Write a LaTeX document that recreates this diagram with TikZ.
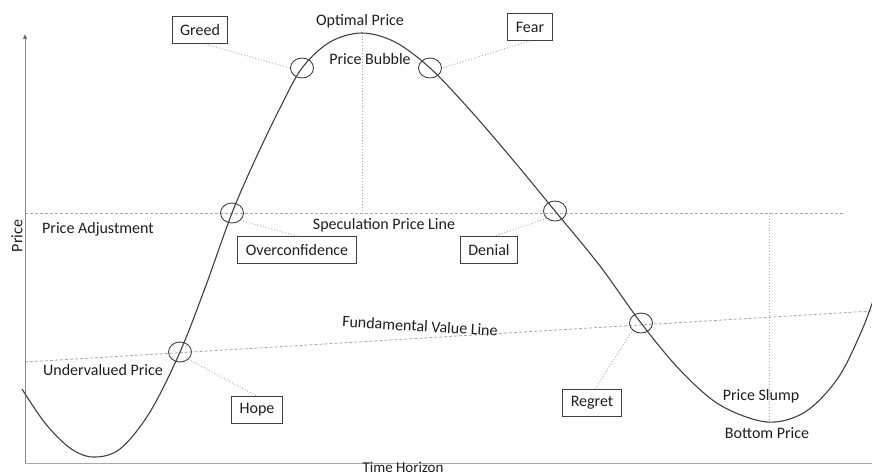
\documentclass[tikz,border=0pt]{standalone}
\usepackage{fontspec}
\setmainfont{Carlito}
\usetikzlibrary{shapes.geometric,arrows.meta}
\definecolor{curvec}{HTML}{404040}
\definecolor{guide}{HTML}{A8A8A8}
\definecolor{txt}{HTML}{1E1E1E}
\tikzset{
  lbl/.style={text=txt,font=\fontsize{16}{18}\selectfont,inner sep=0pt},
  emo/.style={draw=curvec,line width=0.9pt,text=txt,font=\fontsize{16}{18}\selectfont,minimum height=27pt,inner xsep=8pt},
  ring/.style={draw=curvec,ellipse,line width=0.9pt,minimum width=23pt,minimum height=20pt,inner sep=0pt},
  guideline/.style={draw=guide,dashed,dash pattern=on 3pt off 2pt,line width=0.8pt},
  dotline/.style={draw=guide,dotted,line width=0.9pt},
}
\begin{document}
\begin{tikzpicture}[x=1pt,y=-1pt]
\useasboundingbox (0,0) rectangle (872,475);
\clip (0,0) rectangle (872,475);
% axes
\draw[guide!80!black,line width=0.8pt,-{Triangle[length=5pt,width=4pt,fill=black]}] (25,463) -- (25,34);
\draw[guide,line width=1pt] (25,463) -- (872,463);
\node[lbl,rotate=90] (ylab) at (17,236) {Price};
\node[lbl,anchor=base,font=\fontsize{15}{17}\selectfont] (xlab) at (403,472.5) {Time Horizon};
% guide lines
\coordinate (sl0) at (25,213);
\coordinate (sl1) at (845,213);
\draw[guideline] (sl0) -- (sl1);
\coordinate (fl0) at (25,362);
\coordinate (fl1) at (872,311);
\draw[guideline] (fl0) -- (fl1);
\coordinate (pk) at (362,33);
\coordinate (pkb) at (362,213);
\draw[dotline] (pk) -- (pkb);
\coordinate (bt) at (769,422);
\coordinate (btt) at (769,213);
\draw[dotline] (btt) -- (bt);
% curve
\draw[curvec,line width=1.1pt] plot[smooth,tension=0.55] coordinates {
(22,389) (45,423) (70,448) (93,457) (120,449) (150,412) (180,352) (205,288)
(232,213) (255,160) (280,108) (302,68) (330,42) (362,33) (395,42) (430,68)
(470,110) (513,160) (555,211) (600,266) (641,323) (680,370) (720,405)
(767,422) (805,412) (838,378) (862,330) (876,292)};
% rings
\node[ring] (c1) at (302,68) {};
\node[ring] (c2) at (430,68) {};
\node[ring] (c3) at (232,213) {};
\node[ring] (c4) at (555,211) {};
\node[ring] (c5) at (641,323) {};
\node[ring] (c6) at (180,352) {};
% boxes
\node[emo] (greed) at (200,30) {Greed};
\node[emo] (fear) at (530,27) {Fear};
\node[emo] (over) at (297,250) {Overconfidence};
\node[emo] (denial) at (489,250) {Denial};
\node[emo] (hope) at (257,410) {Hope};
\node[emo] (regret) at (592,403) {Regret};
% connectors
\draw[dotline] ([xshift=5pt]greed.south) -- (c1.west);
\draw[dotline] (fear.south) -- (c2.east);
\draw[dotline] (c3.south east) -- (over.north);
\draw[dotline] (c4.south west) -- ([xshift=6pt]denial.north);
\draw[dotline] (c6.south east) -- (hope.north);
\draw[dotline] ([xshift=3pt]regret.north) -- (c5.south west);
% labels
\node[lbl] (opt) at (360,21) {Optimal Price};
\node[lbl] (bub) at (370,59) {Price Bubble};
\node[lbl] (padj) at (98,229) {Price Adjustment};
\node[lbl] (spec) at (384,225) {Speculation Price Line};
\node[lbl,rotate=-3.4] (fund) at (420,326) {Fundamental Value Line};
\node[lbl] (under) at (103,370) {Undervalued Price};
\node[lbl] (slump) at (761,396) {Price Slump};
\node[lbl] (bottom) at (767,433) {Bottom Price};
\end{tikzpicture}
\end{document}
